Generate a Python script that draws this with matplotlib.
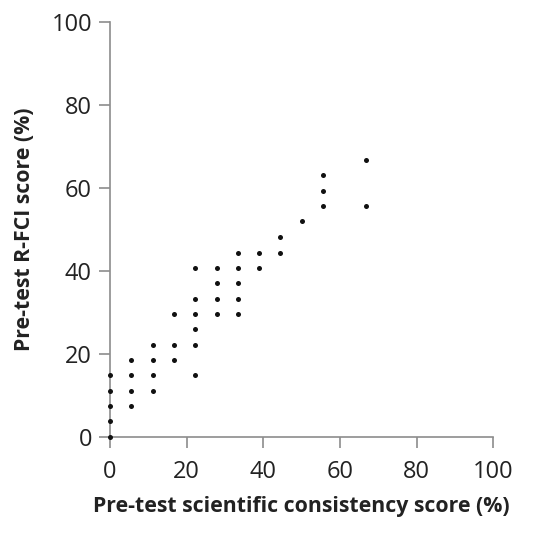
import matplotlib
matplotlib.use("Agg")
import matplotlib.pyplot as plt

# Pre-test scientific consistency score (%)
x_vals = [0, 0, 0, 0, 0,
          5.6, 5.6, 5.6, 5.6,
          11.1, 11.1, 11.1, 11.1,
          16.7, 16.7, 16.7,
          22.2, 22.2, 22.2, 22.2, 22.2, 22.2,
          27.8, 27.8, 27.8, 27.8,
          33.3, 33.3, 33.3, 33.3, 33.3,
          38.9, 38.9,
          44.4, 44.4,
          50.0,
          55.6, 55.6, 55.6,
          66.7, 66.7]
# Pre-test R-FCI score (%)
y_vals = [0, 3.7, 7.4, 11.1, 14.8,
          7.4, 11.1, 14.8, 18.5,
          11.1, 14.8, 18.5, 22.2,
          18.5, 22.2, 29.6,
          14.8, 22.2, 25.9, 29.6, 33.3, 40.7,
          29.6, 33.3, 37.0, 40.7,
          29.6, 33.3, 37.0, 40.7, 44.4,
          40.7, 44.4,
          44.4, 48.1,
          51.9,
          55.6, 59.3, 63.0,
          55.6, 66.7]

ticks = [0, 20, 40, 60, 80, 100]

plt.rcParams['font.family'] = ['Open Sans', 'DejaVu Sans']
fig = plt.figure(figsize=(5.42, 5.44), dpi=100)
ax = fig.add_axes([0.203, 0.197, 0.707, 0.763])
ax.scatter(x_vals, y_vals, s=13, color='#111111', zorder=3, clip_on=False, linewidths=0)
ax.set_xlim(0, 100)
ax.set_ylim(0, 100)
ax.set_xticks(ticks)
ax.set_yticks(ticks)
for s in ['top', 'right']:
    ax.spines[s].set_visible(False)
for s in ['left', 'bottom']:
    ax.spines[s].set_color('#8c8c8c')
    ax.spines[s].set_linewidth(1.2)
ax.tick_params(axis='both', direction='out', length=8, width=1.2, color='#8c8c8c',
               labelsize=17, labelcolor='#222222', pad=5)
ax.tick_params(axis='x', pad=9)
ax.set_xlabel('Pre-test scientific consistency score (%)', fontsize=15.3,
              fontweight='bold', color='#222222', labelpad=8)
ax.set_ylabel('Pre-test R-FCI score (%)', fontsize=15.3, fontweight='bold',
              color='#222222', labelpad=12)
fig.savefig('out.png', dpi=100)
